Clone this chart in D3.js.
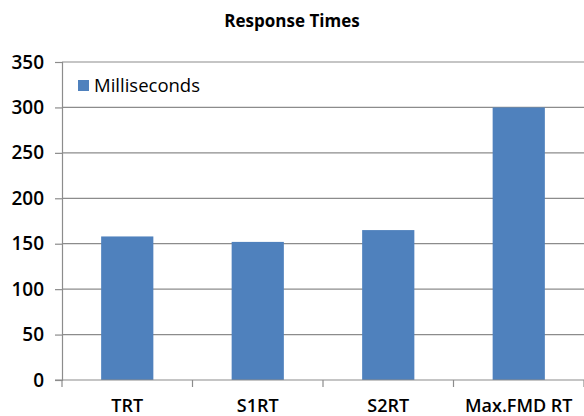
<!DOCTYPE html>
<html>
<head>
<meta charset="utf-8">
<script src="https://cdn.jsdelivr.net/npm/d3@7"></script>
<style>
  html, body { margin: 0; padding: 0; background: #fff; }
  svg { display: block; }
  text { font-family: "Open Sans", "Noto Sans", sans-serif; fill: #000; }
</style>
</head>
<body>
<svg id="chart" width="584" height="416"></svg>
<script>
const categories = ["TRT", "S1RT", "S2RT", "Max.FMD RT"];
const milliseconds = [158, 152, 165, 300];
const yTicks = [0, 50, 100, 150, 200, 250, 300, 350];
const seriesName = "Milliseconds";
const title = "Response Times";

const svg = d3.select("#chart");
const margin = { left: 62, right: 0, top: 62 };
const W = 584;
const plotBottom = 380;

const x = d3.scaleBand()
  .domain(categories)
  .range([margin.left, W])
  .paddingInner(0.6)
  .paddingOuter(0.3);

const y = d3.scaleLinear()
  .domain([0, 350])
  .range([plotBottom, margin.top]);

// gridlines
svg.append("g")
  .selectAll("line")
  .data(yTicks.filter(d => d > 0))
  .join("line")
  .attr("x1", margin.left).attr("x2", W)
  .attr("y1", d => y(d)).attr("y2", d => y(d))
  .attr("stroke", "#8c8c8c").attr("stroke-width", 1.2);

// bars
svg.append("g")
  .selectAll("rect")
  .data(categories.map((c, i) => ({ c, v: milliseconds[i] })))
  .join("rect")
  .attr("x", d => x(d.c))
  .attr("width", x.bandwidth())
  .attr("y", d => y(d.v))
  .attr("height", d => y(0) - y(d.v))
  .attr("fill", "#4f81bd");

// y axis
const yAxis = d3.axisLeft(y).tickValues(yTicks).tickSize(7).tickPadding(11);
const gy = svg.append("g").attr("transform", `translate(${margin.left},0)`).call(yAxis);
gy.select(".domain").attr("stroke", "#8c8c8c").attr("stroke-width", 1.2);
gy.selectAll(".tick line").attr("stroke", "#8c8c8c").attr("stroke-width", 1.2);
gy.selectAll(".tick text")
  .attr("font-size", 19)
  .attr("font-family", "'Open Sans', sans-serif")
  .attr("font-weight", 600)
  .attr("fill", "#000");

// x axis
const gx = svg.append("g");
gx.append("line")
  .attr("x1", margin.left - 7).attr("x2", W)
  .attr("y1", plotBottom).attr("y2", plotBottom)
  .attr("stroke", "#8c8c8c").attr("stroke-width", 1.2);
gx.selectAll("line.tk")
  .data(d3.range(categories.length + 1))
  .join("line")
  .attr("class", "tk")
  .attr("x1", i => x.range()[0] + i * x.step())
  .attr("x2", i => x.range()[0] + i * x.step())
  .attr("y1", plotBottom).attr("y2", plotBottom + 7)
  .attr("stroke", "#8c8c8c").attr("stroke-width", 1.2);
gx.selectAll("text")
  .data(categories)
  .join("text")
  .attr("x", d => x(d) + x.bandwidth() / 2)
  .attr("y", 412)
  .attr("text-anchor", "middle")
  .attr("font-size", 18)
  .attr("font-weight", 600)
  .text(d => d);

// title
svg.append("text")
  .attr("x", 292).attr("y", 27)
  .attr("text-anchor", "middle")
  .attr("font-size", 17)
  .attr("font-weight", 700)
  .text(title);

// legend
svg.append("rect")
  .attr("x", 78).attr("y", 80)
  .attr("width", 11).attr("height", 11)
  .attr("fill", "#4f81bd");
svg.append("text")
  .attr("x", 94).attr("y", 92)
  .attr("font-size", 18.5)
  .attr("font-weight", 400)
  .text(seriesName);
</script>
</body>
</html>
